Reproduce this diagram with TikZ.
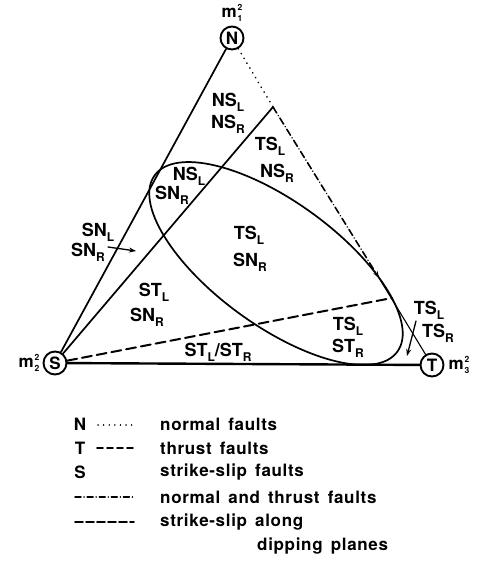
\documentclass[tikz,border=0pt]{standalone}
\usepackage{fontspec}
\setmainfont{TeX Gyre Heros}
\newfontfamily\legfont[LetterSpace=4, WordSpace=1.5]{TeX Gyre Heros}
\usetikzlibrary{arrows.meta}
\newcommand{\sbs}[1]{\raisebox{-0.5ex}{\fontsize{12}{12}\selectfont #1}}
\newcommand{\mlab}[1]{m\kern0.8pt{\fontsize{8.5}{8.5}\selectfont\rlap{\raisebox{6.8pt}{2}}\raisebox{-3.6pt}{#1}}}

\begin{document}
\begin{tikzpicture}[x=1pt, y=-1pt, line join=round, line cap=round,
    corner/.style={circle, draw, line width=1.9pt, inner sep=0pt, minimum size=23pt,
      font=\fontsize{17}{17}\selectfont\bfseries},
    region/.style={font=\fontsize{18}{18}\selectfont\bfseries, inner sep=0pt},
    mass/.style={font=\fontsize{17}{17}\selectfont\bfseries, inner sep=0pt},
    legtext/.style={anchor=west, inner sep=0pt, font=\legfont\fontsize{17}{17}\selectfont\bfseries},
    side/.style={line width=1.7pt},
    normalf/.style={line width=1.8pt, dash pattern=on 0.1pt off 5.5pt},
    thrustf/.style={line width=1.6pt, dash pattern=on 7pt off 3pt on 0.1pt off 3pt},
    dipf/.style={line width=2pt, dash pattern=on 10pt off 5pt}]
  \useasboundingbox (0,0) rectangle (478,578);

  \node[corner] (N) at (232,38) {N};
  \node[corner] (S) at (55,363) {S};
  \node[corner] (T) at (432,365) {T};
  \node[mass, above=4pt] (mN) at (N.north) {\mlab{1}};
  \node[mass, left=3pt] (mS) at (S.west) {\mlab{2}};
  \node[mass, right=4pt] (mT) at (T.east) {\mlab{3}};

  \coordinate (P) at (273,107);
  \coordinate (R) at (379,278);
  \coordinate (Q) at (392,298);
  \coordinate (snA) at (108,247);
  \coordinate (snB) at (136,251);
  \coordinate (tsA) at (416,321);
  \coordinate (tsB) at (407,356);

  \draw[side] (S) -- (N);
  \draw[line width=2.4pt] (S) -- (T);
  \draw[side] (S) -- (P);
  \draw[normalf] (N) -- (P);
  \draw[thrustf, -{Stealth[length=7pt, width=5pt]}] (P) -- (R);
  \draw[line width=1.1pt] (R) -- (T);
  \draw[dipf] (S) -- (Q);
  \draw[side, rotate around={-36:(276,263.5)}] (276,263.5) ellipse (150 and 62);
  \draw[line width=1.3pt, -{Stealth[length=7pt, width=5pt]}] (snA) -- (snB);
  \draw[line width=1.3pt, -{Stealth[length=7pt, width=5pt]}] (tsA) -- (tsB);

  \node[region] (r1a) at (228,102) {NS\sbs{L}};
  \node[region] (r1b) at (228,124) {NS\sbs{R}};
  \node[region] (r2a) at (270,146) {TS\sbs{L}};
  \node[region] (r2b) at (277,173) {NS\sbs{R}};
  \node[region] (r3a) at (189,176) {NS\sbs{L}};
  \node[region] (r3b) at (172,195) {SN\sbs{R}};
  \node[region] (r4a) at (249,235) {TS\sbs{L}};
  \node[region] (r4b) at (250,262) {SN\sbs{R}};
  \node[region] (r5a) at (98,232) {SN\sbs{L}};
  \node[region] (r5b) at (88,252) {SN\sbs{R}};
  \node[region] (r6a) at (154,292) {ST\sbs{L}};
  \node[region] (r6b) at (147,317) {SN\sbs{R}};
  \node[region] (r7a) at (348,326) {TS\sbs{L}};
  \node[region] (r7b) at (348,348) {ST\sbs{R}};
  \node[region] (r8) at (218,352) {ST\sbs{L}/ST\sbs{R}};
  \node[region] (r9a) at (429,310) {TS\sbs{L}};
  \node[region] (r9b) at (438,333) {TS\sbs{R}};

  \node[mass] (kN) at (80,424) {N};
  \draw[line width=1.4pt, dash pattern=on 0.1pt off 5.5pt] (98,425) -- (134,425);
  \node[legtext] (tN) at (160,424) {normal faults};
  \node[mass] (kT) at (80,448) {T};
  \draw[line width=1.6pt, dash pattern=on 6pt off 4pt] (97,448) -- (134,448);
  \node[legtext] (tT) at (160,448) {thrust faults};
  \node[mass] (kS) at (80,472) {S};
  \node[legtext] (tS) at (160,472) {strike-slip faults};
  \draw[line width=1.4pt, dash pattern=on 6pt off 3pt on 0.1pt off 3pt] (75,497) -- (134,497);
  \node[legtext] (tNT) at (160,497) {normal and thrust faults};
  \draw[line width=1.6pt, dash pattern=on 8pt off 3pt] (75,522) -- (134,522);
  \node[legtext] (tD1) at (160,522) {strike-slip along};
  \node[legtext] (tD2) at (257,546) {dipping planes};
\end{tikzpicture}
\end{document}
